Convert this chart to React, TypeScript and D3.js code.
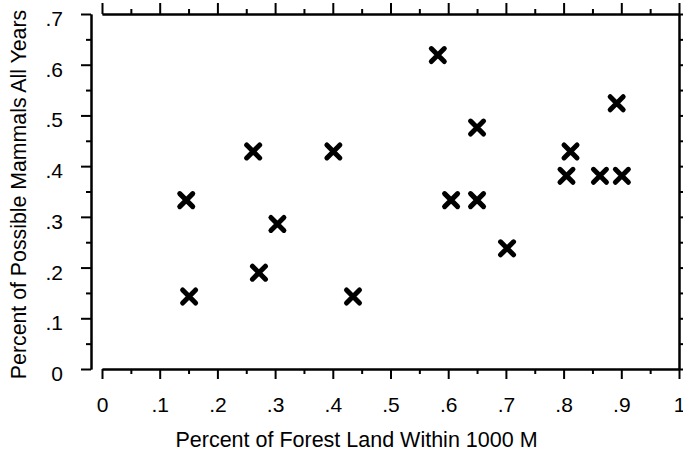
import React, { useRef, useEffect } from 'react';
import * as d3 from 'd3';

// forest share within 1000 m vs. share of possible mammals (all years)
const forestPct = [0.146, 0.151, 0.262, 0.272, 0.304, 0.401, 0.435, 0.582, 0.605, 0.65, 0.65, 0.702, 0.805, 0.812, 0.863, 0.892, 0.901];
const mammalPct = [0.333, 0.143, 0.429, 0.19, 0.286, 0.429, 0.143, 0.619, 0.333, 0.476, 0.333, 0.238, 0.381, 0.429, 0.381, 0.524, 0.381];

const xMajor = [0, 0.1, 0.2, 0.3, 0.4, 0.5, 0.6, 0.7, 0.8, 0.9, 1];
const xMinor = [0.05, 0.15, 0.25, 0.35, 0.45, 0.55, 0.65, 0.75, 0.85, 0.95];
const yMajor = [0, 0.1, 0.2, 0.3, 0.4, 0.5, 0.6, 0.7];
const yMinor = [0.05, 0.15, 0.25, 0.35, 0.45, 0.55, 0.65];

const xTitle = 'Percent of Forest Land Within 1000 M';
const yTitle = 'Percent of Possible Mammals All Years';

const W = 683;
const H = 454;
const FONT = "'Liberation Sans', Arial, sans-serif";

const fmt = (d: number) => (d === 0 || d === 1 ? String(d) : d3.format('.1f')(d).replace(/^0/, ''));

export default function App() {
  const svgRef = useRef<SVGSVGElement>(null);

  useEffect(() => {
    if (!svgRef.current) return;
    const svg = d3.select(svgRef.current);
    svg.selectAll('*').remove();

    const x = d3.scaleLinear().domain([0, 1]).range([102, 679]);
    const y = d3.scaleLinear().domain([0, 0.7]).range([369, 14]);
    const leftX = 91;

    const style = (g: any) => {
      g.select('.domain').attr('stroke', '#000').attr('stroke-width', 2);
      g.selectAll('.tick line').attr('stroke', '#000').attr('stroke-width', 2);
      g.selectAll('.tick text').attr('fill', '#000').attr('font-size', 21).attr('font-family', FONT);
    };

    // bottom
    svg.append('g').attr('transform', 'translate(0,369)')
      .call(d3.axisBottom(x).tickValues(xMajor).tickSize(10).tickSizeOuter(0).tickPadding(18).tickFormat(fmt as any))
      .call(style);
    svg.append('g').attr('transform', 'translate(0,369)')
      .call(d3.axisBottom(x).tickValues(xMinor).tickSize(5).tickSizeOuter(0).tickFormat(() => ''))
      .call(style);
    // top
    svg.append('g').attr('transform', 'translate(0,14)')
      .call(d3.axisTop(x).tickValues(xMajor).tickSize(11).tickSizeOuter(0).tickFormat(() => ''))
      .call(style);
    svg.append('g').attr('transform', 'translate(0,14)')
      .call(d3.axisTop(x).tickValues(xMinor).tickSize(5).tickSizeOuter(0).tickFormat(() => ''))
      .call(style);
    // left (offset from the plot)
    const left = svg.append('g').attr('transform', `translate(${leftX},0)`)
      .call(d3.axisLeft(y).tickValues(yMajor).tickSize(10).tickSizeOuter(0).tickPadding(18).tickFormat(fmt as any))
      .call(style);
    left.selectAll('.tick text').attr('dy', '0.55em');
    svg.append('g').attr('transform', `translate(${leftX},0)`)
      .call(d3.axisLeft(y).tickValues(yMinor).tickSize(5).tickSizeOuter(0).tickFormat(() => ''))
      .call(style);
    // right
    svg.append('g').attr('transform', 'translate(679,0)')
      .call(d3.axisRight(y).tickValues(yMajor).tickSize(11).tickSizeOuter(0).tickFormat(() => ''))
      .call(style);
    svg.append('g').attr('transform', 'translate(679,0)')
      .call(d3.axisRight(y).tickValues(yMinor).tickSize(5).tickSizeOuter(0).tickFormat(() => ''))
      .call(style);

    // markers
    const s = 6.5;
    const pts = forestPct.map((f, i) => [x(f), y(mammalPct[i])]);
    svg.append('g').selectAll('path').data(pts).enter().append('path')
      .attr('d', d => `M${d[0] - s},${d[1] - s}L${d[0] + s},${d[1] + s}M${d[0] - s},${d[1] + s}L${d[0] + s},${d[1] - s}`)
      .attr('stroke', '#000').attr('stroke-width', 5).attr('stroke-linecap', 'round').attr('fill', 'none');

    // titles
    svg.append('text').attr('x', (x(0) + x(1)) / 2 - 34).attr('y', 447)
      .attr('text-anchor', 'middle').attr('font-size', 21.5).attr('font-family', FONT).attr('fill', '#000')
      .text(xTitle);
    svg.append('text').attr('transform', `translate(26,${(y(0) + y(0.7)) / 2 + 3}) rotate(-90)`)
      .attr('text-anchor', 'middle').attr('font-size', 21.3).attr('font-family', FONT).attr('fill', '#000')
      .text(yTitle);
  }, []);

  return (
    <svg ref={svgRef} width={W} height={H}
      style={{ position: 'absolute', left: 0, top: 0, background: '#fff', display: 'block' }} />
  );
}
